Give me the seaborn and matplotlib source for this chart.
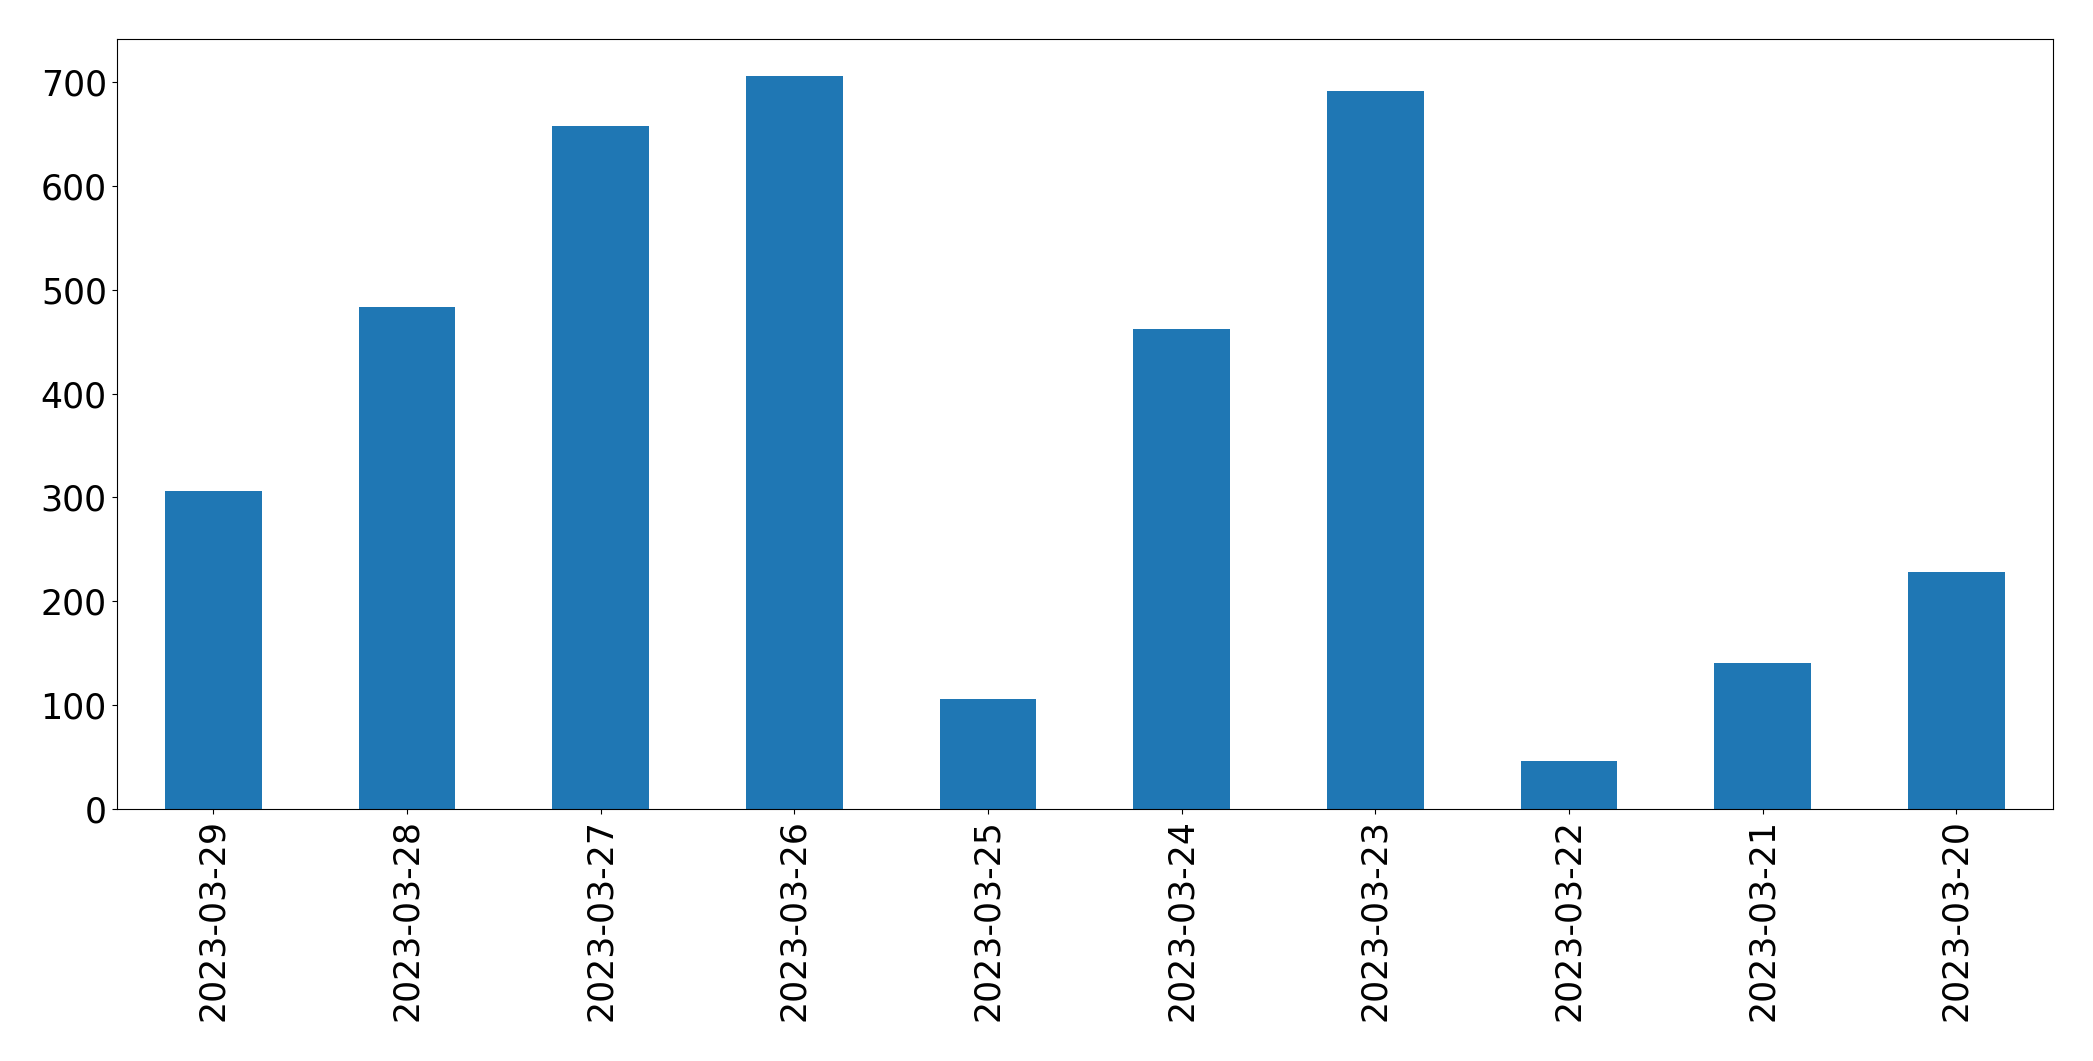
import numpy as np
import pandas as pd
import seaborn as sns
import matplotlib
matplotlib.use('Agg')
import matplotlib.pyplot as plt

dates = ['2023-03-29', '2023-03-28', '2023-03-27', '2023-03-26', '2023-03-25',
         '2023-03-24', '2023-03-23', '2023-03-22', '2023-03-21', '2023-03-20']
counts = [306, 483, 658, 706, 106, 462, 691, 46, 141, 228]

df = pd.DataFrame({'date': dates, 'count': counts})

fig, ax = plt.subplots(figsize=(20.93, 10.61), dpi=100)
sns.barplot(data=df, x='date', y='count', order=dates, color='#1f77b4',
            saturation=1, width=0.5, ax=ax)
ax.set_xlabel('')
ax.set_ylabel('')
ax.tick_params(axis='both', labelsize=25)
ax.tick_params(axis='x', labelrotation=90)
ax.set_xlim(-0.5, len(dates) - 0.5)
ax.set_ylim(0, max(counts) * 1.05)

fig.subplots_adjust(left=0.0557, right=0.981, top=0.963, bottom=0.2375)
fig.savefig('out.png', dpi=100)
